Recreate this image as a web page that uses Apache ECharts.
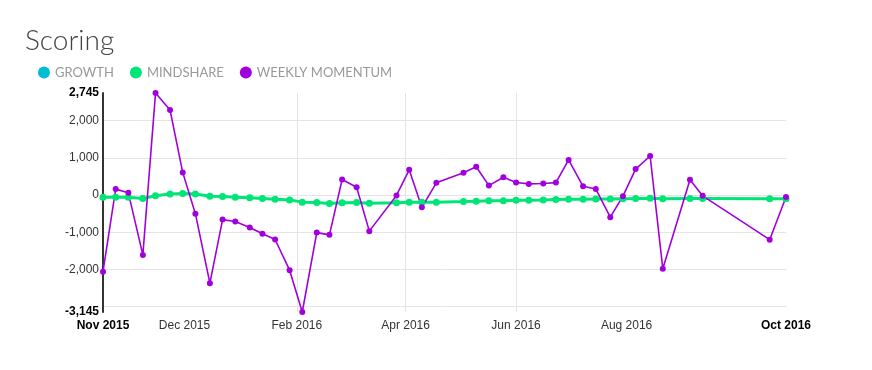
<!DOCTYPE html>
<html>
<head>
<meta charset="utf-8">
<script src="https://cdn.jsdelivr.net/npm/echarts@6/dist/echarts.min.js"></script>
<style>
  html, body { margin: 0; padding: 0; background: #fff; }
  #chart { width: 872px; height: 370px; }
</style>
</head>
<body>
<div id="chart"></div>
<script>
// week dates of each reading
const dates = [
  '2015-10-17', '2015-10-24', '2015-10-31', '2015-11-08', '2015-11-15', '2015-11-23', '2015-11-30',
  '2015-12-07', '2015-12-15', '2015-12-22', '2015-12-29', '2016-01-06', '2016-01-13', '2016-01-20',
  '2016-01-28', '2016-02-04', '2016-02-12', '2016-02-19', '2016-02-26', '2016-03-05', '2016-03-12',
  '2016-03-27', '2016-04-03', '2016-04-10', '2016-04-18',
  '2016-05-03', '2016-05-10', '2016-05-17', '2016-05-25', '2016-06-01', '2016-06-08', '2016-06-16',
  '2016-06-23', '2016-06-30', '2016-07-08', '2016-07-15', '2016-07-23', '2016-07-30', '2016-08-06',
  '2016-08-14', '2016-08-21',
  '2016-09-05', '2016-09-12', '2016-10-19', '2016-10-28'
]
const growth = []
const mindshare = [
  -60, -60, -60, -95, -20, 30, 40, 30, -30, -40, -60, -75, -95, -110, -130, -190, -200, -230, -210, -200, -220,
  -210, -195, -195, -195,
  -175, -165, -155, -150, -140, -140, -130, -120, -110, -110, -105, -105, -100, -95, -85, -100,
  -95, -95, -100, -100
]
const momentum = [
  -2060, 160, 60, -1610, 2745, 2290, 610, -500, -2370, -660, -710, -870, -1040, -1195, -2020, -3145, -1010, -1070, 420, 210, -970,
  -10, 680, -330, 330,
  600, 760, 255, 480, 340, 300, 310, 335, 945, 235, 165, -595, -30, 700, 1050, -1980,
  410, -20, -1200, -50
]
// x axis labels
const xTickDates = ['2015-10-17', '2015-12-01', '2016-02-01', '2016-04-01', '2016-06-01', '2016-08-01', '2016-10-28']
const xTickLabels = ['Nov 2015', 'Dec 2015', 'Feb 2016', 'Apr 2016', 'Jun 2016', 'Aug 2016', 'Oct 2016']
const xGridDates = ['2015-12-01', '2016-02-01', '2016-04-01', '2016-06-01', '2016-08-01']
const yTickValues = [-2000, -1000, 0, 1000, 2000]

// days since first reading
const dayOf = (d) => {
  const p = d.split('-').map(Number)
  const q = dates[0].split('-').map(Number)
  return Math.round((Date.UTC(p[0], p[1] - 1, p[2]) - Date.UTC(q[0], q[1] - 1, q[2])) / 86400000)
}
const days = dates.map(dayOf)
const tickDays = xTickDates.map(dayOf)
const gridDays = xGridDates.map(dayOf)
const yMin = Math.min(...momentum)
const yMax = Math.max(...momentum)

const pairs = (vals) => vals.map((v, i) => [days[i], v])

var chart = echarts.init(document.getElementById('chart'))
chart.setOption({
  animation: false,
  title: {
    text: 'Scoring',
    left: 25,
    top: 27,
    padding: 0,
    textStyle: { fontFamily: 'Lato', fontWeight: 300, fontSize: 28, color: '#444' },
  },
  legend: {
    left: 38,
    top: 66,
    padding: 0,
    icon: 'circle',
    itemWidth: 12,
    itemHeight: 12,
    itemGap: 16,
    textStyle: { fontFamily: 'Lato', fontSize: 13, color: '#999' },
    data: ['GROWTH', 'MINDSHARE', 'WEEKLY MOMENTUM'],
  },
  grid: { left: 103, right: 86, top: 93, bottom: 58 },
  xAxis: {
    type: 'value',
    min: days[0],
    max: days[days.length - 1],
    axisLine: { show: false },
    axisTick: { show: false, customValues: gridDays },
    splitLine: { show: true, showMinLine: false, showMaxLine: false, lineStyle: { color: '#e4e4e4', width: 1 } },
    axisLabel: {
      customValues: tickDays,
      margin: 8,
      fontFamily: 'Liberation Sans',
      fontSize: 12,
      color: '#333',
      formatter: (value) => {
        const i = tickDays.indexOf(value)
        if (i < 0) return ''
        if (i === 0 || i === xTickLabels.length - 1) return '{b|' + xTickLabels[i] + '}'
        return xTickLabels[i]
      },
      rich: { b: { fontFamily: 'Liberation Sans', fontSize: 12, fontWeight: 'bold', color: '#000' } },
    },
  },
  yAxis: {
    type: 'value',
    min: yMin,
    max: yMax,
    axisLine: { show: true, lineStyle: { color: '#333', width: 2 } },
    axisTick: { show: false },
    splitLine: { show: true, showMinLine: false, showMaxLine: false, lineStyle: { color: '#e4e4e4', width: 1 } },
    axisLabel: {
      customValues: [yMin].concat(yTickValues, [yMax]),
      margin: 4,
      fontFamily: 'Liberation Sans',
      fontSize: 12,
      color: '#333',
      formatter: (value) => {
        const s = value.toLocaleString('en-US')
        if (value === yMin || value === yMax) return '{b|' + s + '}'
        return s
      },
      rich: { b: { fontFamily: 'Liberation Sans', fontSize: 12, fontWeight: 'bold', color: '#000' } },
    },
  },
  series: [
    {
      name: 'GROWTH',
      type: 'line',
      color: '#00bcd4',
      data: pairs(growth),
    },
    {
      name: 'MINDSHARE',
      type: 'line',
      color: '#00e676',
      symbol: 'circle',
      symbolSize: 7,
      lineStyle: { width: 3 },
      data: pairs(mindshare),
    },
    {
      name: 'WEEKLY MOMENTUM',
      type: 'line',
      color: '#a100dd',
      symbol: 'circle',
      symbolSize: 6,
      lineStyle: { width: 1.6 },
      data: pairs(momentum),
    },
  ],
})
</script>
</body>
</html>
